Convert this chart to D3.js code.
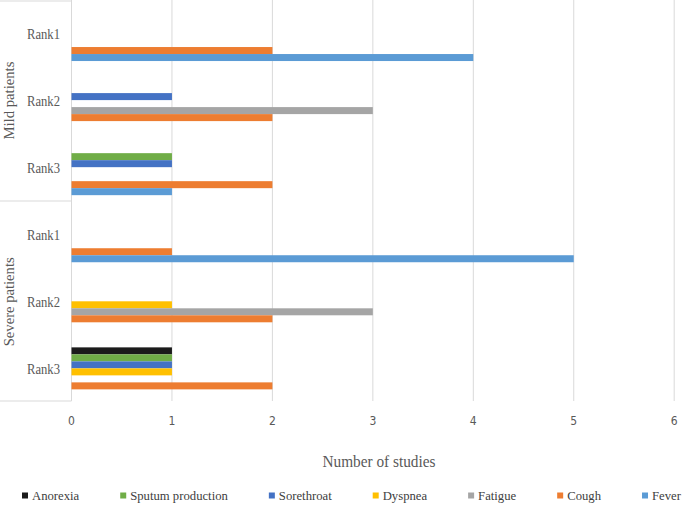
<!DOCTYPE html>
<html><head><meta charset="utf-8">
<script src="https://cdn.jsdelivr.net/npm/d3@7"></script>
<style>
body{margin:0;background:#fff}svg{display:block}
.serif{font-family:"Liberation Serif","Times New Roman",Times,"DejaVu Serif",serif}
.narrow{font-family:"Liberation Sans Narrow","Arial Narrow","DejaVu Sans Condensed",sans-serif}
</style>
</head><body>
<script>
// ---- data ----
const groups = ["Mild patients", "Severe patients"];
const ranks = ["Rank1", "Rank2", "Rank3", "Rank1", "Rank2", "Rank3"];
const seriesNames = ["Anorexia", "Sputum production", "Sorethroat", "Dyspnea", "Fatigue", "Cough", "Fever"];
const seriesColors = ["#1b1b1b", "#70AD47", "#4472C4", "#FFC000", "#A5A5A5", "#ED7D31", "#5B9BD5"];
// values per category (Mild R1, R2, R3, Severe R1, R2, R3)
const anorexia   = [0, 0, 0, 0, 0, 1];
const sputum     = [0, 0, 1, 0, 0, 1];
const sorethroat = [0, 1, 1, 0, 0, 1];
const dyspnea    = [0, 0, 0, 0, 1, 1];
const fatigue    = [0, 3, 0, 0, 3, 0];
const cough      = [2, 2, 2, 1, 2, 2];
const fever      = [4, 0, 1, 5, 0, 0];
const xTicks = [0, 1, 2, 3, 4, 5, 6];
const xTitle = "Number of studies";

const seriesValues = [anorexia, sputum, sorethroat, dyspnea, fatigue, cough, fever];

const W = 685, H = 505;
const svg = d3.select("body").append("svg").attr("width", W).attr("height", H);

const x = d3.scaleLinear().domain([0, 6]).range([71.5, 674.2]);
const catIdx = d3.range(ranks.length);
const y = d3.scaleBand().domain(catIdx).range([0, 402.4]).padding(0);
const slotH = 7.0;
const inner = d3.scaleBand().domain(d3.range(seriesNames.length))
  .range([0, slotH * seriesNames.length]);
const bandOffset = y.bandwidth() / 2 + 3 - slotH * seriesNames.length / 2;

const grid = "#D9D9D9";
svg.append("g").selectAll("line").data(xTicks).join("line")
  .attr("x1", d => x(d)).attr("x2", d => x(d))
  .attr("y1", 0).attr("y2", 401)
  .attr("stroke", grid).attr("stroke-width", 1);

[1, 201, 401].forEach(yy => {
  svg.append("line").attr("x1", 0).attr("x2", x(0)).attr("y1", yy).attr("y2", yy)
    .attr("stroke", grid).attr("stroke-width", 1);
});

const barData = [];
seriesValues.forEach((vals, s) => vals.forEach((v, c) => { if (v > 0) barData.push({s, c, v}); }));
svg.append("g").selectAll("rect").data(barData).join("rect")
  .attr("x", x(0))
  .attr("y", d => y(d.c) + bandOffset + inner(d.s))
  .attr("width", d => x(d.v) - x(0))
  .attr("height", inner.bandwidth())
  .attr("fill", d => seriesColors[d.s]);

svg.append("g").selectAll("text").data(xTicks).join("text")
  .attr("class", "narrow")
  .attr("x", d => x(d)).attr("y", 424.5)
  .attr("text-anchor", "middle")
  .attr("font-size", 12).attr("fill", "#595959")
  .text(d => d);

svg.append("text").attr("class", "serif").attr("x", 379).attr("y", 467)
  .attr("text-anchor", "middle")
  .attr("font-size", 16).attr("fill", "#595959")
  .attr("textLength", 113).attr("lengthAdjust", "spacingAndGlyphs")
  .text(xTitle);

svg.append("g").selectAll("text").data(catIdx).join("text")
  .attr("class", "serif")
  .attr("x", 43.5).attr("y", d => y(d) + y.bandwidth() / 2 + 5)
  .attr("text-anchor", "middle")
  .attr("font-size", 15).attr("fill", "#595959")
  .attr("textLength", 33).attr("lengthAdjust", "spacingAndGlyphs")
  .text(d => ranks[d]);

const groupLens = [78, 89];
groups.forEach((g, i) => {
  const cy = (y(i * 3) + y(i * 3 + 2) + y.bandwidth()) / 2;
  svg.append("text").attr("class", "serif")
    .attr("transform", `translate(14,${cy}) rotate(-90)`)
    .attr("text-anchor", "middle")
    .attr("font-size", 15).attr("fill", "#595959")
    .attr("textLength", groupLens[i]).attr("lengthAdjust", "spacingAndGlyphs")
    .text(g);
});

const leg = svg.append("g");
let lx = 22;
seriesNames.forEach((n, i) => {
  leg.append("rect").attr("x", lx).attr("y", 492.5).attr("width", 6).attr("height", 6)
    .attr("fill", seriesColors[i]);
  const t = leg.append("text").attr("class", "serif").attr("x", lx + 10).attr("y", 500)
    .attr("font-size", 12.7).attr("fill", "#404040").text(n);
  lx += 10 + t.node().getComputedTextLength() + 41;
});
</script>
</body></html>
